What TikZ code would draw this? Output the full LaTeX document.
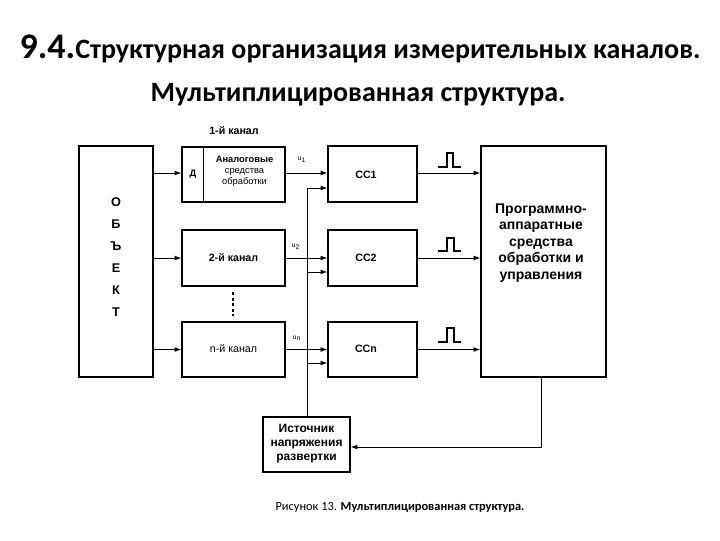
\documentclass[tikz,border=0pt]{standalone}
\usepackage{fontspec}
\setmainfont{Carlito}
\newfontfamily\af{Liberation Sans}
\usetikzlibrary{arrows.meta}
\tikzset{
  box/.style={draw, line width=0.9pt, inner sep=0pt, font=\af},
  arr/.style={line width=0.75pt, -{Latex[length=5pt,width=3.6pt]}},
  ln/.style={line width=0.75pt},
  pulse/.style={line width=0.8pt},
  lbl/.style={font=\af\fontsize{8}{9.6}\selectfont\bfseries, inner sep=0pt},
  ulbl/.style={font=\af\fontsize{5}{6}\selectfont, inner sep=0pt}
}
\begin{document}
\begin{tikzpicture}[x=0.75pt,y=-0.75pt]
\useasboundingbox (0,0) rectangle (720,540);
% title
\node[anchor=base, inner sep=0pt] (title1) at (360,58)
  {\fontsize{27}{32}\selectfont\bfseries 9.4.\fontsize{21}{25}\selectfont Структурная организация измерительных каналов.};
\node[anchor=base, inner sep=0pt] (title2) at (358,101)
  {\fontsize{21}{25}\selectfont\bfseries Мультиплицированная структура.};
% boxes
\node[box, minimum width=55.5pt, minimum height=173.25pt] (obj) at (116,261.5) {};
\node[align=center, inner sep=0pt, font=\af\fontsize{9.5}{16.5}\selectfont\bfseries] (objtxt) at (116,257) {О\\Б\\Ъ\\Е\\К\\Т};
\node[box, minimum width=77.25pt, minimum height=41.25pt] (ch1) at (233.5,174.5) {};
\node[box, minimum width=77.25pt, minimum height=42pt] (ch2) at (233.5,258) {};
\node[box, minimum width=77.25pt, minimum height=41.25pt] (chn) at (233.5,349.5) {};
\node[box, minimum width=66.75pt, minimum height=42pt] (cc1) at (372.5,174) {};
\node[box, minimum width=66.75pt, minimum height=42pt] (cc2) at (372.5,258) {};
\node[box, minimum width=66.75pt, minimum height=41.25pt] (ccn) at (372.5,349.5) {};
\node[box, minimum width=93.75pt, minimum height=173.25pt] (big) at (543.5,261.5) {};
\node[box, minimum width=65.25pt, minimum height=41.25pt] (src) at (306.5,444.5) {};
% divider in channel 1
\draw[line width=0.75pt] ([xshift=16.5pt]ch1.north west) -- ([xshift=16.5pt]ch1.south west);
% texts
\node[lbl] (k1) at (234,131) {1-й канал};
\node[lbl, font=\af\fontsize{7}{8.3}\selectfont\bfseries] (d) at (193,174) {Д};
\node[inner sep=0pt, align=center, font=\af\fontsize{7}{8.3}\selectfont] (an) at (244.5,171.5)
  {\textbf{Аналоговые}\\средства\\обработки};
\node[lbl] (k2) at (233.5,258) {2-й канал};
\node[lbl, font=\af\fontsize{8}{9.6}\selectfont] (kn) at (233.5,349) {n-й канал};
\node[lbl] (t1) at (366,175) {СС1};
\node[lbl] (t2) at (366,258) {СС2};
\node[lbl] (tn) at (366,349) {ССn};
\node[inner sep=0pt, align=center, font=\af\fontsize{10.5}{12.4}\selectfont\bfseries] (bigtxt) at (541,243)
  {Программно-\\аппаратные\\средства\\обработки и\\управления};
\node[inner sep=0pt, align=center, font=\af\fontsize{9}{10.5}\selectfont\bfseries] (srctxt) at (306.5,444)
  {Источник\\напряжения\\развертки};
\node[ulbl] (u1) at (302,160) {u\textsubscript{1}};
\node[ulbl] (u2) at (296,247) {u\textsubscript{2}};
\node[ulbl] (un) at (297,338) {u\textsubscript{n}};
% object to channels
\draw[arr] (obj.east |- 0,173) -- (ch1.west |- 0,173);
\draw[arr] (obj.east |- ch2.west) -- (ch2.west);
\draw[arr] (obj.east |- chn.west) -- (chn.west);
% channels to CC
\draw[arr] (ch1.east |- 0,173) -- (cc1.west |- 0,173);
\draw[arr] (ch2.east) -- (ch2.east -| cc2.west);
\draw[arr] (chn.east) -- (chn.east -| ccn.west);
% bus from source
\coordinate (b1) at (307,188);
\coordinate (b2) at (307,272);
\coordinate (b3) at (307,363);
\draw[ln] (b1) -- (b1 |- src.north);
\draw[arr] (b1) -- (b1 -| cc1.west);
\draw[arr] (b2) -- (b2 -| cc2.west);
\draw[arr] (b3) -- (b3 -| ccn.west);
% CC to big
\draw[arr] (cc1.east |- 0,173) -- (big.west |- 0,173);
\draw[arr] (cc2.east) -- (cc2.east -| big.west);
\draw[arr] (ccn.east) -- (ccn.east -| big.west);
% big to source
\coordinate (bb) at (541,377);
\draw[arr] (bb) |- (src.east |- 0,447);
% pulses
\draw[pulse] (438,167) -- (447,167) -- (447,153) -- (453,153) -- (453,167) -- (461,167);
\draw[pulse] (438,251) -- (447,251) -- (447,238) -- (454,238) -- (454,251) -- (461,251);
\draw[pulse] (438,342) -- (447,342) -- (447,328) -- (454,328) -- (454,342) -- (461,342);
% dots
\draw[line width=2.2pt, dash pattern=on 2.2pt off 2pt] (233,292) -- (233,316);
% caption
\node[inner sep=0pt, font=\fontsize{9.3}{11}\selectfont] (cap) at (400,507)
  {Рисунок 13. \textbf{Мультиплицированная структура.}};
\end{tikzpicture}
\end{document}
